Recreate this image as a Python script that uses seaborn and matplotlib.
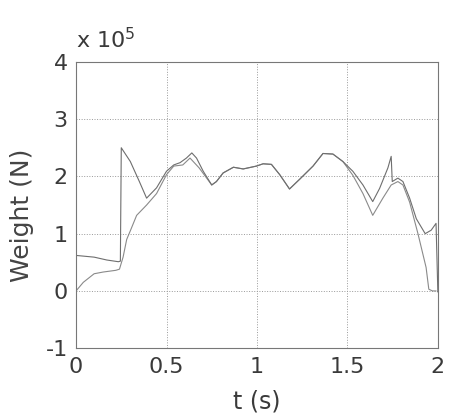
import numpy as np
import pandas as pd
import matplotlib
matplotlib.use("Agg")
import matplotlib.pyplot as plt
import seaborn as sns
from matplotlib.ticker import FixedLocator

# Weight in units of 1e5 N
t_a = [0, 0.1, 0.17, 0.234, 0.245, 0.25, 0.3, 0.35, 0.39, 0.445, 0.5, 0.54, 0.575, 0.61, 0.64,
       0.666, 0.703, 0.75, 0.776, 0.813, 0.87, 0.924, 0.997, 1.034, 1.08, 1.126, 1.18, 1.236,
       1.31, 1.365, 1.42, 1.475, 1.53, 1.586, 1.64, 1.678, 1.724, 1.742, 1.748, 1.779, 1.807,
       1.844, 1.881, 1.93, 1.963, 1.99, 2.0]
w_a = [0.62, 0.59, 0.54, 0.51, 0.52, 2.5, 2.26, 1.91, 1.62, 1.8, 2.09, 2.2, 2.24, 2.32, 2.41,
       2.32, 2.09, 1.85, 1.91, 2.06, 2.16, 2.13, 2.18, 2.22, 2.21, 2.03, 1.78, 1.95,
       2.18, 2.4, 2.39, 2.26, 2.09, 1.85, 1.56, 1.79, 2.15, 2.35, 1.91, 1.97, 1.91,
       1.62, 1.26, 1.0, 1.06, 1.18, -0.02]

t_b = [0, 0.04, 0.1, 0.15, 0.22, 0.24, 0.26, 0.28, 0.30, 0.335, 0.39, 0.445, 0.5, 0.54, 0.59,
       0.63, 0.68, 0.75, 0.776, 0.813, 0.87, 0.924, 0.997, 1.034, 1.08, 1.126, 1.18, 1.236,
       1.31, 1.365, 1.42, 1.475, 1.53, 1.586, 1.64, 1.696, 1.742, 1.779, 1.807, 1.844, 1.89,
       1.935, 1.95, 1.97, 1.99]
w_b = [0.0, 0.15, 0.3, 0.33, 0.36, 0.38, 0.59, 0.9, 1.05, 1.32, 1.5, 1.7, 2.03, 2.18, 2.2,
       2.32, 2.15, 1.85, 1.91, 2.06, 2.16, 2.13, 2.18, 2.22, 2.21, 2.03, 1.78, 1.95,
       2.18, 2.4, 2.39, 2.26, 2.02, 1.7, 1.32, 1.62, 1.85, 1.91, 1.85, 1.55, 1.0,
       0.41, 0.03, 0.0, 0.0]

x_ticks = [0, 0.5, 1, 1.5, 2]
x_labels = ["0", "0.5", "1", "1.5", "2"]
y_ticks = [-1, 0, 1, 2, 3, 4]
y_labels = ["-1", "0", "1", "2", "3", "4"]

df_a = pd.DataFrame({"t": t_a, "w": w_a})
df_b = pd.DataFrame({"t": t_b, "w": w_b})

sns.set_style("white")
plt.rcParams["font.family"] = ["DejaVu Sans"]

fig = plt.figure(figsize=(4.5, 4.18), dpi=100)
ax = fig.add_axes([0.169, 0.167, 0.804, 0.685])

sns.lineplot(data=df_b, x="t", y="w", ax=ax, color="#8a8a8a", linewidth=0.8, sort=False)
sns.lineplot(data=df_a, x="t", y="w", ax=ax, color="#6e6e6e", linewidth=0.8, sort=False)

ax.set_xlim(0, 2)
ax.set_ylim(-1, 4)
ax.xaxis.set_major_locator(FixedLocator(x_ticks))
ax.yaxis.set_major_locator(FixedLocator(y_ticks))
ax.set_xticklabels(x_labels)
ax.set_yticklabels(y_labels)
ax.grid(True, linestyle=":", color="#999999", linewidth=0.7)
ax.tick_params(direction="in", length=3, labelsize=16, colors="#3a3a3a", pad=6)
for s in ax.spines.values():
    s.set_color("#777777")
    s.set_linewidth(0.8)

ax.set_xlabel("t (s)", fontsize=17, color="#3a3a3a")
ax.set_ylabel("Weight (N)", fontsize=18, color="#444444")
ax.xaxis.set_label_coords(0.5, -0.145)
ax.yaxis.set_label_coords(-0.115, 0.465)
ax.text(0.0, 1.035, r"x 10$^5$", transform=ax.transAxes, fontsize=16,
        color="#3a3a3a", ha="left", va="bottom")

fig.savefig("out.png", dpi=100)
